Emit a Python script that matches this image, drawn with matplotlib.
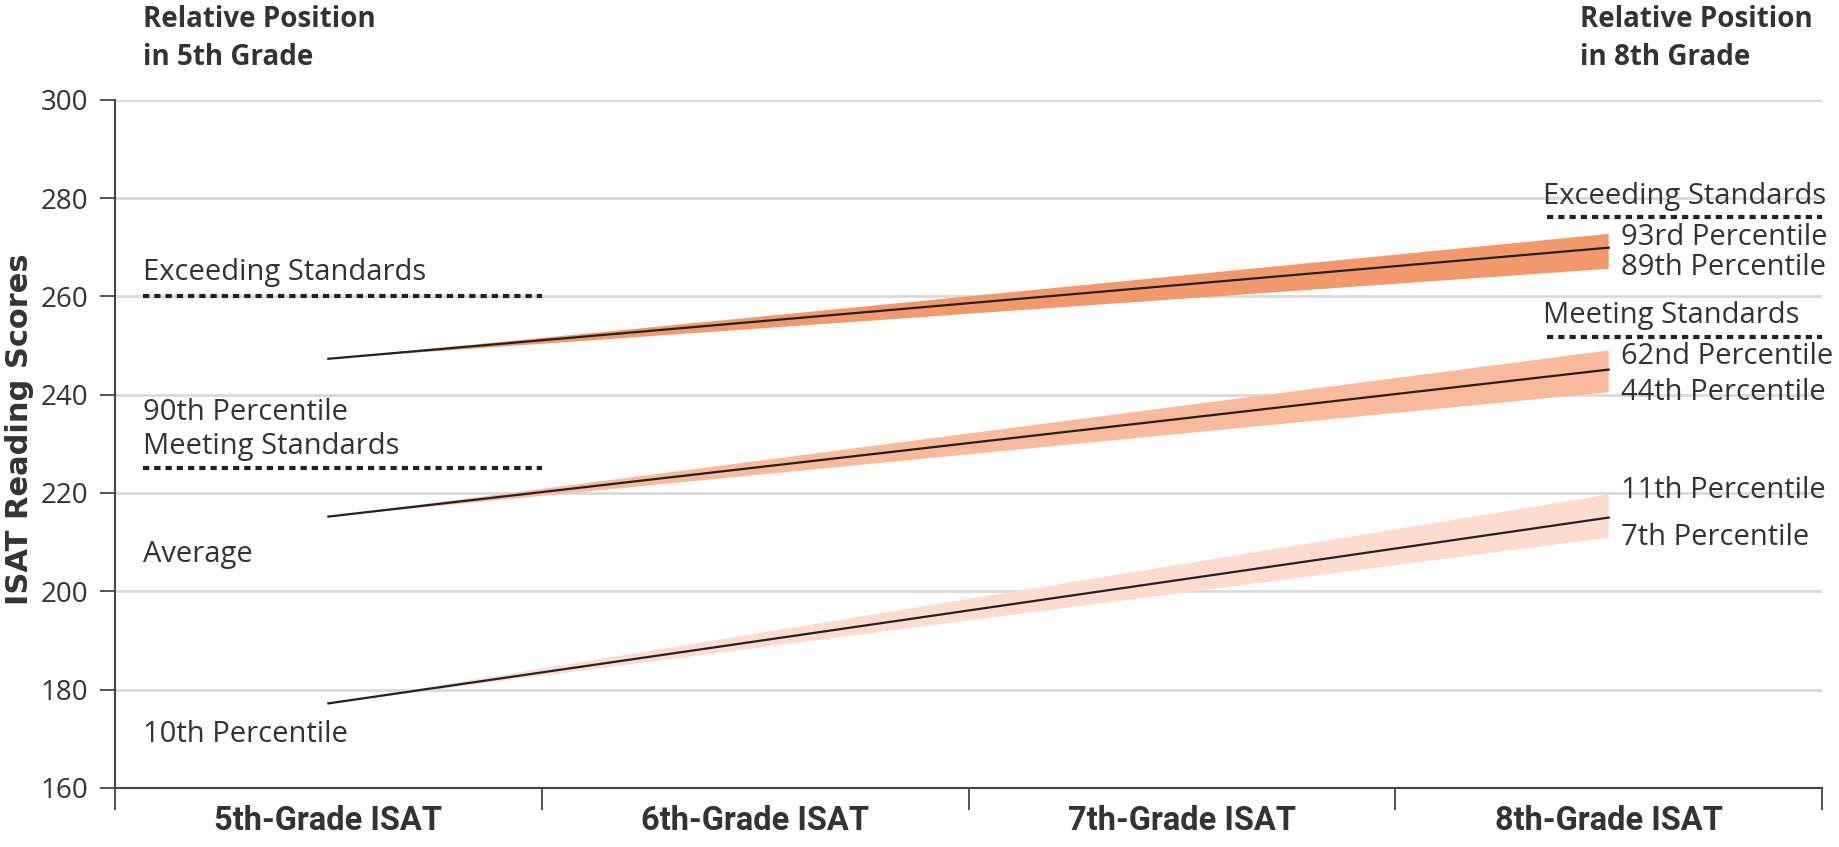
import numpy as np
import matplotlib.pyplot as plt

grades = ['5th-Grade ISAT', '6th-Grade ISAT', '7th-Grade ISAT', '8th-Grade ISAT']

# lines go from the 5th-grade score to the 8th-grade score
start = [247.3, 215.2, 177.2]
end = [269.9, 245.1, 215.0]
band_hi = [272.7, 249.0, 219.7]
band_lo = [265.6, 240.5, 210.9]
band_col = ['#f2986a', '#f9bb9c', '#fddccf']

left_std = [260, 225]
right_std = [276.2, 251.7]

left_labels = [('Exceeding Standards', 264.8), ('90th Percentile', 236.3),
               ('Meeting Standards', 229.4), ('Average', 207.4), ('10th Percentile', 170.8)]
right_std_labels = [('Exceeding Standards', 280.4), ('Meeting Standards', 256.2)]
right_pct_labels = [('93rd Percentile', 271.9), ('89th Percentile', 265.8),
                    ('62nd Percentile', 247.7), ('44th Percentile', 240.4),
                    ('11th Percentile', 220.6), ('7th Percentile', 210.9)]

txt = '#333333'
plt.rcParams['font.family'] = ['Open Sans', 'DejaVu Sans']
fs = 21

fig = plt.figure(figsize=(18.39, 8.47), dpi=100)
ax = fig.add_axes([0.0625, 0.0697, 0.9283, 0.8126])

x0, x1 = 0, 3
for s, e, hi, lo, c in zip(start, end, band_hi, band_lo, band_col):
    ax.fill([x0, x1, x1], [s, hi, lo], color=c, lw=0, zorder=2)
    ax.plot([x0, x1], [s, e], color='#222222', lw=1.6, zorder=3)

# standard cut-offs
for y in left_std:
    ax.plot([-0.434, 0.5], [y, y], color='#222222', lw=3, ls=(0, (1.5, 1.2)), zorder=3)
for y in right_std:
    ax.plot([2.855, 3.5], [y, y], color='#222222', lw=3, ls=(0, (1.5, 1.2)), zorder=3)

for t, y in left_labels:
    ax.text(-0.434, y, t, fontsize=fs, color=txt, va='center', ha='left')
for t, y in right_std_labels:
    ax.text(2.845, y, t, fontsize=fs, color=txt, va='center', ha='left')
for t, y in right_pct_labels:
    ax.text(3.03, y, t, fontsize=fs, color=txt, va='center', ha='left')

ax.set_xlim(-0.5, 3.5)
ax.set_ylim(160, 300)
ax.set_yticks(np.arange(160, 301, 20))
ax.set_xticks([-0.5, 0.5, 1.5, 2.5, 3.5])
ax.set_xticklabels([])
ax.set_xticks(range(4), minor=True)
ax.set_xticklabels(grades, minor=True, fontsize=23.5, fontweight='bold', color=txt,
                   family=['Liberation Sans Narrow', 'Roboto', 'DejaVu Sans'])
ax.tick_params(axis='x', which='minor', length=0, pad=12)
ax.tick_params(axis='x', which='major', length=16, width=1.3, color='#444444')
ax.tick_params(axis='y', length=11, width=1.3, color='#444444', labelsize=20,
               labelcolor=txt, pad=8)
ax.grid(axis='y', color='#d9d9d9', lw=2, zorder=0)
ax.set_axisbelow(True)
for s in ['top', 'right']:
    ax.spines[s].set_visible(False)
for s in ['left', 'bottom']:
    ax.spines[s].set_color('#444444')
    ax.spines[s].set_linewidth(1.5)
ax.spines['bottom'].set_zorder(4)

fig.text(0.0105, 0.4935, 'ISAT Reading Scores', fontsize=22, fontweight='bold', color=txt,
         rotation=90, ha='center', va='center', family=['DejaVu Sans'])

fig.text(0.0778, 0.955, 'Relative Position\nin 5th Grade', fontsize=20, fontweight='bold',
         color=txt, va='center', ha='left', linespacing=1.4)
fig.text(0.859, 0.955, 'Relative Position\nin 8th Grade', fontsize=20, fontweight='bold',
         color=txt, va='center', ha='left', linespacing=1.4)

fig.savefig('out.png', dpi=100)
